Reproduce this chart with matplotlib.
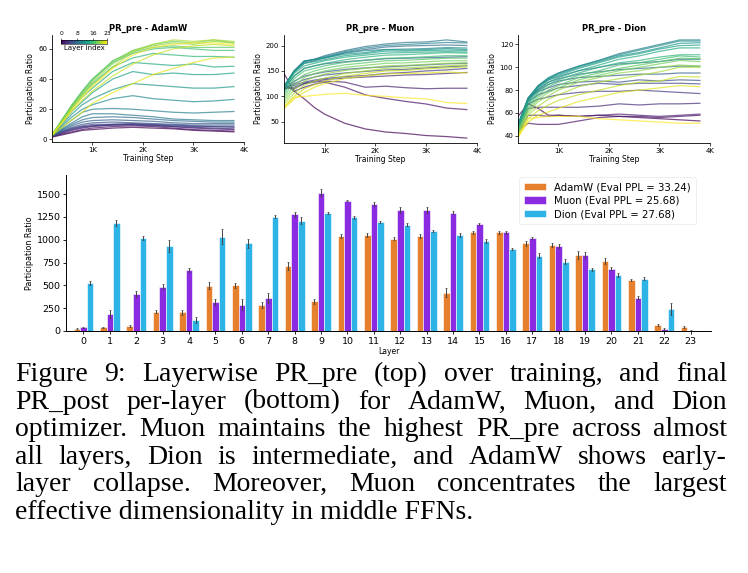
import matplotlib
matplotlib.use("Agg")
import matplotlib.pyplot as plt
import numpy as np
from matplotlib.cm import ScalarMappable
from matplotlib.colors import Normalize

STEPS = [200, 400, 600, 800, 1000, 1400, 1800, 2200, 2600, 3000, 3400, 3800]

# PR_pre per layer (row = layer 0..23)
PR_ADAMW = [
    [1.5, 3, 4.5, 6, 6.5, 7.5, 8, 7.5, 7, 6, 5.5, 5],
    [1.8, 3.5, 5, 6.5, 7.5, 8.5, 9, 8.5, 7.5, 6.5, 6, 5.5],
    [2, 4, 6, 7.5, 8.5, 9.5, 10, 9.5, 8.5, 7.5, 7, 6.5],
    [2, 4.5, 6.5, 8, 9, 9.5, 9.5, 9, 8.5, 8, 7.5, 7],
    [2, 5, 7, 8.5, 9, 10, 10.5, 10, 9.5, 9, 8.5, 8],
    [2, 5, 7.5, 9, 10, 10, 10, 9.5, 9, 8.5, 8.5, 8.5],
    [2, 5.5, 8, 10, 11, 11.5, 11, 10.5, 10, 9.5, 9.5, 9.5],
    [2.5, 6, 9, 11.5, 12.5, 13, 12.5, 12, 11, 10.5, 10.5, 10.5],
    [2.5, 6.5, 10, 13, 14.5, 15, 14.5, 13.5, 12.5, 12, 11.5, 11.5],
    [2.5, 7, 11, 15, 17, 17, 16, 15, 13.5, 13, 12.5, 12.5],
    [2.5, 8, 13, 18, 20, 20.5, 20, 19, 18, 17.5, 18, 18.5],
    [3, 9, 15, 20, 23, 27, 29, 27, 26, 25, 25.5, 26.5],
    [3, 10, 17, 23, 27, 33, 37, 36, 35, 34, 34, 35],
    [3, 11, 19, 25, 31, 40, 45, 43, 44, 43, 43, 44],
    [3, 12, 21, 28, 34, 45, 51, 50, 49, 50, 48, 48.5],
    [3, 12, 22, 30, 37, 48, 54, 57, 56, 55, 55, 54.5],
    [3, 13, 23, 32, 40, 51, 57, 60, 61, 60, 59, 59],
    [3, 13, 23, 32, 40, 52, 58, 61, 62, 61, 61, 61],
    [3, 13, 23, 31, 39, 52, 59, 63, 65, 64, 66, 64],
    [3, 12, 22, 30, 38, 50, 59, 62, 64, 63, 65, 64],
    [3, 12, 21, 29, 36, 48, 58, 63, 66, 65, 66, 65],
    [3, 11, 19, 26, 32, 42, 50, 56, 60, 62, 63, 62],
    [2.5, 8, 13, 18, 24, 31, 37, 43, 47, 51, 54, 54.5],
    [3, 11, 20, 28, 35, 47, 56, 61, 63, 64, 64, 63],
]

PR_MUON = [
    [145, 110, 95, 78, 65, 47, 36, 30, 27, 23, 21, 18],
    [125, 110, 118, 124, 128, 118, 103, 96, 90, 85, 77, 74],
    [118, 115, 125, 128, 130, 128, 118, 120, 117, 115, 116, 116],
    [115, 118, 126, 130, 133, 136, 138, 140, 142, 143, 145, 147],
    [118, 122, 128, 132, 135, 139, 141, 145, 147, 150, 152, 155],
    [115, 125, 133, 138, 142, 146, 149, 152, 153, 156, 158, 160],
    [112, 130, 140, 144, 148, 153, 156, 158, 160, 162, 164, 165],
    [115, 140, 155, 160, 164, 168, 171, 174, 175, 176, 177, 178],
    [118, 148, 165, 170, 176, 186, 192, 197, 199, 200, 201, 200],
    [118, 150, 168, 173, 180, 190, 198, 203, 206, 207, 211, 207],
    [118, 150, 168, 173, 178, 188, 195, 200, 202, 204, 206, 205],
    [120, 150, 170, 172, 176, 185, 190, 192, 193, 194, 196, 195],
    [120, 150, 170, 172, 175, 183, 186, 192, 191, 192, 194, 192],
    [118, 148, 165, 168, 172, 180, 184, 189, 189, 190, 191, 190],
    [115, 145, 160, 165, 170, 177, 181, 185, 186, 187, 188, 187],
    [110, 140, 155, 160, 165, 172, 177, 181, 182, 184, 186, 185],
    [105, 135, 150, 155, 160, 167, 171, 175, 176, 178, 180, 180],
    [100, 128, 143, 150, 155, 162, 166, 170, 171, 173, 175, 175],
    [95, 120, 137, 145, 150, 157, 161, 165, 166, 168, 170, 170],
    [90, 113, 130, 138, 144, 151, 155, 160, 161, 163, 165, 166],
    [85, 106, 122, 130, 136, 145, 150, 155, 156, 158, 160, 162],
    [80, 100, 115, 123, 130, 140, 145, 150, 151, 154, 156, 158],
    [76, 95, 108, 118, 125, 135, 140, 144, 145, 146, 148, 146],
    [78, 98, 100, 102, 104, 106, 102, 100, 97, 95, 88, 86],
]

PR_DION = [
    [57, 68, 64, 58, 58, 57, 58, 57, 56, 55, 54, 53],
    [45, 51, 50, 50, 50, 53, 56, 57, 57, 56, 57, 58],
    [42, 58, 58, 57, 58, 57, 58, 59, 58, 57, 58, 59],
    [44, 64, 65, 65, 65, 65, 66, 68, 67, 68, 68, 68.5],
    [46, 68, 72, 74, 76, 78, 79, 79, 80, 79, 78, 77],
    [47, 70, 76, 79, 82, 84, 86, 85, 86, 86, 86, 85.5],
    [48, 72, 79, 82, 85, 87, 88, 87, 89, 88, 89, 88.5],
    [48, 72, 80, 85, 88, 91, 92, 93, 94, 94, 95, 95],
    [49, 72, 81, 87, 90, 94, 96, 98, 99, 100, 101, 101],
    [49, 73, 83, 89, 92, 97, 100, 103, 104, 105, 107, 107],
    [50, 73, 84, 90, 95, 101, 106, 112, 116, 120, 124, 124],
    [50, 73, 84, 91, 95, 101, 106, 111, 115, 119, 123, 123],
    [49, 72, 83, 90, 94, 100, 105, 110, 113, 117, 121, 121.5],
    [48, 71, 82, 89, 93, 99, 104, 109, 112, 116, 119, 119.5],
    [47, 70, 80, 87, 91, 97, 102, 107, 110, 114, 117, 117],
    [46, 68, 78, 85, 89, 95, 100, 104, 106, 109, 111, 111],
    [45, 66, 76, 83, 87, 93, 97, 102, 104, 107, 110, 109],
    [44, 64, 74, 80, 84, 91, 95, 99, 102, 105, 108, 107.5],
    [43, 62, 72, 78, 82, 89, 93, 97, 100, 103, 106, 105],
    [42, 60, 70, 75, 80, 87, 91, 95, 97, 100, 102, 101],
    [41, 58, 66, 72, 76, 83, 87, 90, 93, 96, 100, 100],
    [40, 55, 62, 67, 71, 76, 80, 84, 87, 88, 92, 91.5],
    [39, 52, 58, 61, 64, 70, 74, 78, 80, 82, 84, 83],
    [38, 55, 56, 57, 57, 57, 55, 54, 53, 52, 51, 51],
]

# final PR_post per layer
LAYERS = list(range(24))
ADAMW_PR = [25, 40, 55, 210, 205, 495, 500, 285, 710, 325, 1040, 1055,
            1010, 1040, 420, 1080, 1080, 960, 945, 835, 765, 560, 65, 45]
ADAMW_ERR = [8, 8, 10, 15, 25, 40, 25, 35, 45, 30, 20, 20,
             15, 25, 50, 20, 20, 25, 25, 45, 30, 15, 15, 10]
MUON_PR = [40, 185, 405, 485, 670, 320, 290, 360, 1280, 1515, 1430, 1390,
           1325, 1325, 1295, 1170, 1080, 1020, 930, 835, 685, 365, 22, 3]
MUON_ERR = [8, 40, 35, 30, 20, 30, 60, 55, 25, 40, 10, 20,
            30, 30, 15, 10, 20, 10, 25, 30, 15, 15, 10, 3]
DION_PR = [525, 1185, 1020, 930, 120, 1035, 960, 1255, 1210, 1295, 1245, 1195,
           1165, 1095, 1050, 990, 900, 825, 760, 675, 615, 575, 240, 3]
DION_ERR = [20, 30, 25, 65, 30, 80, 45, 15, 35, 10, 15, 15,
            15, 15, 20, 20, 15, 25, 25, 20, 25, 15, 65, 2]

OPTIMIZERS = ["AdamW", "Muon", "Dion"]
EVAL_PPL = ["33.24", "25.68", "27.68"]
BAR_COLORS = ["#E6802C", "#8A2BE2", "#2EB3E6"]

CAPTION = [
    "Figure 9: Layerwise PR_pre (top) over training, and final",
    "PR_post per-layer (bottom) for AdamW, Muon, and Dion",
    "optimizer. Muon maintains the highest PR_pre across almost",
    "all layers, Dion is intermediate, and AdamW shows early-",
    "layer collapse.  Moreover, Muon concentrates the largest",
    "effective dimensionality in middle FFNs.",
]

W, H = 748, 573
fig = plt.figure(figsize=(W / 100, H / 100), dpi=100)


def px_axes(x0, y0, x1, y1):
    """axes from pixel box (top-left origin)."""
    return fig.add_axes([x0 / W, 1 - y1 / H, (x1 - x0) / W, (y1 - y0) / H])


# ── top row: PR_pre curves ──────────────────────────────────────────────
cmap = plt.get_cmap("viridis")
norm = Normalize(vmin=0, vmax=23)
boxes = [(52, 35, 244, 142), (284, 35, 477, 143), (518, 35, 710, 143)]
for name, data, box in zip(OPTIMIZERS, [PR_ADAMW, PR_MUON, PR_DION], boxes):
    ax = px_axes(*box)
    for layer, ys in enumerate(data):
        ax.plot(STEPS, ys, color=cmap(norm(layer)), lw=0.9, alpha=0.7)
    ax.set_xlim(200, 4000)
    ax.set_xticks([1000, 2000, 3000, 4000])
    ax.set_xticklabels(["1K", "2K", "3K", "4K"])
    ax.tick_params(labelsize=5, length=2, width=0.5, pad=1.5)
    ax.set_title(f"PR_pre - {name}", fontsize=6, fontweight="bold", pad=3)
    ax.set_xlabel("Training Step", fontsize=5.5, labelpad=1)
    ax.set_ylabel("Participation Ratio", fontsize=5.5, labelpad=2)
    for s in ("top", "right"):
        ax.spines[s].set_visible(False)
    for s in ("left", "bottom"):
        ax.spines[s].set_linewidth(0.6)

# layer-index colorbar inside the AdamW panel
cax = px_axes(61, 39.5, 107, 43.5)
cb = fig.colorbar(ScalarMappable(norm=norm, cmap=cmap), cax=cax,
                  orientation="horizontal", ticks=[0, 8, 16, 23])
cb.outline.set_linewidth(0.4)
cax.xaxis.set_ticks_position("top")
cax.xaxis.set_label_position("bottom")
cax.tick_params(labelsize=4.3, length=1.5, width=0.4, pad=0.8)
cb.set_label("Layer index", fontsize=5, labelpad=1)

# ── bottom: final PR_post bars ──────────────────────────────────────────
ax = px_axes(66, 175, 711, 331)
x = np.arange(len(LAYERS))
width = 0.25
series = [(ADAMW_PR, ADAMW_ERR), (MUON_PR, MUON_ERR), (DION_PR, DION_ERR)]
for i, ((vals, errs), name, ppl, col) in enumerate(
        zip(series, OPTIMIZERS, EVAL_PPL, BAR_COLORS)):
    ax.bar(x + (i - 1) * width, vals, width, yerr=errs, color=col,
           edgecolor="white", linewidth=0.4,
           error_kw=dict(ecolor="#444444", elinewidth=0.7, capsize=0.8,
                         capthick=0.5),
           label=f"{name} (Eval PPL = {ppl})")
ax.set_xlim(-0.66, 23.77)
ax.set_ylim(0, 1710)
ax.set_xticks(x)
ax.set_xticklabels([str(l) for l in LAYERS])
ax.set_yticks([0, 250, 500, 750, 1000, 1250, 1500])
ax.tick_params(labelsize=6.8, length=2.5, width=0.6, pad=1.5)
ax.set_xlabel("Layer", fontsize=5.5, labelpad=1)
ax.set_ylabel("Participation Ratio", fontsize=5.8, labelpad=2)
for s in ("top", "right"):
    ax.spines[s].set_visible(False)
for s in ("left", "bottom"):
    ax.spines[s].set_linewidth(0.7)
leg = ax.legend(loc="upper right", bbox_to_anchor=(0.985, 1.02), fontsize=7.3,
                frameon=True, handlelength=2.2, handleheight=0.8,
                borderpad=0.5, labelspacing=0.35, handletextpad=0.8)
leg.get_frame().set_linewidth(0.4)
leg.get_frame().set_edgecolor("#dddddd")

# ── caption, justified ─────────────────────────────────────────────────
cap_font = dict(family="Liberation Serif", fontsize=20)
left, right = 15, 727
base_y = 381
line_h = 27.6
renderer = fig.canvas.get_renderer()
for k, line in enumerate(CAPTION):
    y = 1 - (base_y + k * line_h) / H
    if k == len(CAPTION) - 1:
        fig.text(left / W, y, line, ha="left", va="baseline", **cap_font)
        continue
    words = line.split()
    texts = [fig.text(0, y, w, ha="left", va="baseline", **cap_font)
             for w in words]
    widths = [t.get_window_extent(renderer).width for t in texts]
    gap = (right - left - sum(widths)) / (len(words) - 1)
    xpos = left
    for t, wd in zip(texts, widths):
        t.set_x(xpos / W)
        xpos += wd + gap

fig.savefig("out.png", dpi=100)
